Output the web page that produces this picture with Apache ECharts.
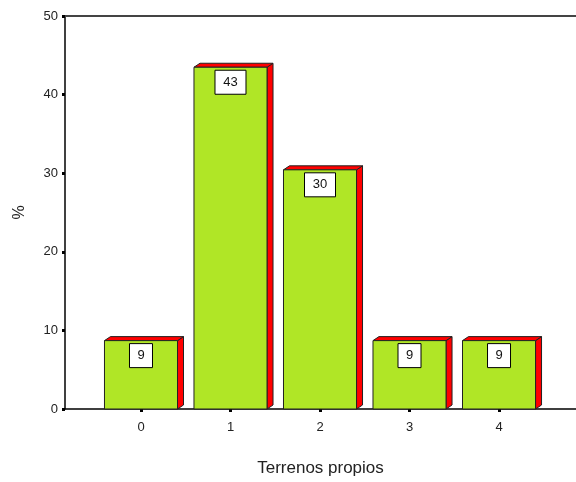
<!DOCTYPE html>
<html>
<head>
<meta charset="utf-8">
<script src="https://cdn.jsdelivr.net/npm/echarts@6/dist/echarts.min.js"></script>
<style>html,body{margin:0;padding:0;background:#fff}#c{width:576px;height:482px}</style>
</head>
<body>
<div id="c"></div>
<script>
var categories = ['0', '1', '2', '3', '4'];
var percents = [8.70, 43.48, 30.43, 8.70, 8.70];
var yTicks = [0, 10, 20, 30, 40, 50];
var xTitle = 'Terrenos propios';
var yTitle = '%';

var chart = echarts.init(document.getElementById('c'), null, {renderer: 'canvas'});
var data = percents.map(function (v, i) { return [i, v]; });
var HALF = 0.408, DX = 6, DY = 4;
var font = 'Liberation Sans, Arial, sans-serif';

chart.setOption({
  animation: false,
  grid: {left: 65, right: 0, top: 16, bottom: 69, containLabel: false},
  xAxis: [{
    type: 'value', min: -0.849, max: 4.86, position: 'bottom',
    splitLine: {show: false},
    axisLine: {show: true, onZero: false, lineStyle: {color: '#000', width: 1.5}},
    axisTick: {show: true, customValues: [0, 1, 2, 3, 4], length: 3, inside: false, lineStyle: {color: '#000', width: 3}},
    axisLabel: {show: true, customValues: [0, 1, 2, 3, 4], margin: 12, color: '#222', fontSize: 13, fontFamily: font,
      formatter: function (v) { return categories[Math.round(v)]; }},
    name: xTitle, nameLocation: 'middle', nameGap: 51,
    nameTextStyle: {color: '#222', fontSize: 17, fontFamily: font}
  }, {
    type: 'value', min: -0.849, max: 4.86, position: 'top',
    splitLine: {show: false},
    axisLine: {show: true, onZero: false, lineStyle: {color: '#444', width: 2}},
    axisTick: {show: false}, axisLabel: {show: false}
  }],
  yAxis: {
    type: 'value', min: 0, max: 50, interval: 10,
    splitLine: {show: false},
    axisLine: {show: true, onZero: false, lineStyle: {color: '#000', width: 1.5}},
    axisTick: {show: true, length: 3, lineStyle: {color: '#000', width: 3}},
    axisLabel: {color: '#222', fontSize: 13, fontFamily: font, margin: 7,
      formatter: function (v) { return yTicks.indexOf(v) >= 0 ? String(v) : ''; }},
    name: yTitle, nameLocation: 'middle', nameGap: 37, nameRotate: 90,
    nameTextStyle: {color: '#222', fontSize: 16, fontFamily: font}
  },
  series: [{
    type: 'custom',
    data: data,
    renderItem: function (params, api) {
      var x = api.value(0), v = api.value(1);
      var p0 = api.coord([x - HALF, v]);
      var p1 = api.coord([x + HALF, 0]);
      var l = p0[0], t = p0[1], r = p1[0], b = p1[1];
      var lbl = String(Math.round(v));
      var bw = lbl.length > 1 ? 31 : 23;
      var cx = (l + r) / 2;
      return {
        type: 'group',
        children: [
          {type: 'polygon', shape: {points: [[r, b], [r + DX, b - DY], [r + DX, t - DY], [r, t]]},
            style: {fill: '#ff0000', stroke: '#222', lineWidth: 1}},
          {type: 'polygon', shape: {points: [[l, t], [l + DX, t - DY], [r + DX, t - DY], [r, t]]},
            style: {fill: '#ff0000', stroke: '#222', lineWidth: 1}},
          {type: 'rect', shape: {x: l, y: t, width: r - l, height: b - t},
            style: {fill: '#b0e626', stroke: '#222', lineWidth: 1}},
          {type: 'rect', shape: {x: cx - bw / 2, y: t + 3, width: bw, height: 24},
            style: {fill: '#fff', stroke: '#000', lineWidth: 1}},
          {type: 'text', x: cx, y: t + 15,
            style: {text: lbl, fill: '#111', fontSize: 13, fontFamily: font, align: 'center', verticalAlign: 'middle'}}
        ]
      };
    }
  }]
});
</script>
</body>
</html>
